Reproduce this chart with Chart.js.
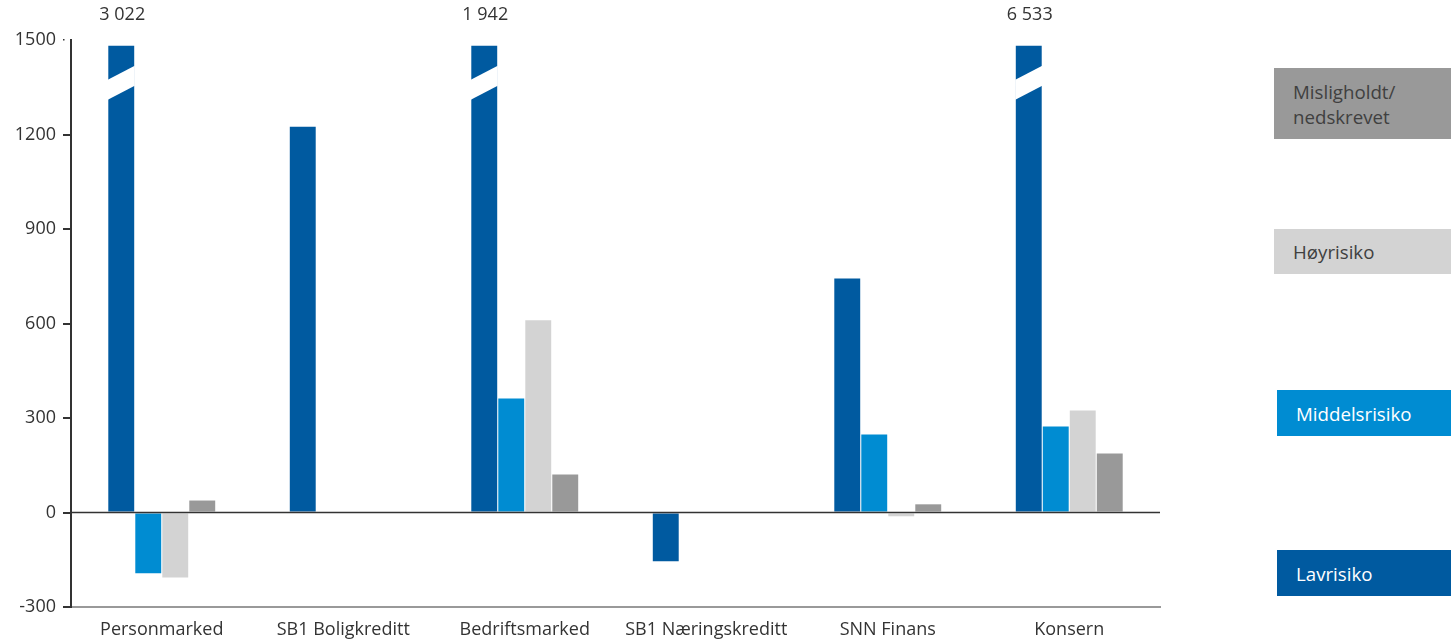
<!DOCTYPE html>
<html>
<head>
<meta charset="utf-8">
<script src="https://cdn.jsdelivr.net/npm/chart.js@4.4.1/dist/chart.umd.min.js"></script>
<style>
  html, body { margin:0; padding:0; background:#fff; }
  #wrap { position:relative; width:1451px; height:642px; overflow:hidden; }
  canvas { position:absolute; left:0; top:0; }
  .lg { position:absolute; font-family: "Open Sans", sans-serif; font-size:18.7px; line-height:25px; box-sizing:border-box; padding-left:19px; display:flex; align-items:center; }
</style>
</head>
<body>
<div id="wrap">
  <canvas id="c" width="1451" height="642"></canvas>
</div>
<script>
const categories = ['Personmarked', 'SB1 Boligkreditt', 'Bedriftsmarked', 'SB1 Næringskreditt', 'SNN Finans', 'Konsern'];
const lavrisiko     = [3022, 1225, 1942, -155, 743, 6533];
const middelsrisiko = [-193, null, 362, null, 248, 273];
const hoyrisiko     = [-206, null, 610, null, -12, 324];
const misligholdt   = [38, null, 121, null, 26, 187];
const seriesNames   = ['Lavrisiko', 'Middelsrisiko', 'Høyrisiko', 'Misligholdt/\nnedskrevet'];
const yTicks        = [-300, 0, 300, 600, 900, 1200, 1500];

const colors = ['#005AA0', '#008CD2', '#D3D3D3', '#999999'];
const textColors = ['#ffffff', '#ffffff', '#404040', '#404040'];
const Y_MIN = -300, Y_MAX = 1500, CAP = 1482;
const FONT = '"Open Sans", sans-serif';

const allSeries = [lavrisiko, middelsrisiko, hoyrisiko, misligholdt];

const fmt = v => String(v).replace(/\B(?=(\d{3})+(?!\d))/g, ' ');

const breakPlugin = {
  id: 'breaks',
  afterDatasetsDraw(chart) {
    const ctx = chart.ctx;
    const y = chart.scales.y;
    const area = chart.chartArea;
    ctx.save();
    ctx.strokeStyle = '#333333';
    ctx.lineWidth = 1.5;
    const y0 = y.getPixelForValue(0);
    ctx.beginPath();
    ctx.moveTo(area.left, y0);
    ctx.lineTo(area.right, y0);
    ctx.stroke();
    // small dot at top tick
    ctx.fillStyle = '#333333';
    ctx.fillRect(area.left - 8, y.getPixelForValue(Y_MAX) - 1, 1.5, 1.5);
    ctx.restore();

    chart.data.datasets.forEach((ds, di) => {
      const meta = chart.getDatasetMeta(di);
      allSeries[di].forEach((v, i) => {
        if (v == null || v <= Y_MAX) return;
        const bar = meta.data[i];
        const x1 = bar.x - bar.width / 2 - 0.5;
        const x2 = bar.x + bar.width / 2 + 0.5;
        const top = bar.y;
        ctx.save();
        ctx.fillStyle = '#ffffff';
        ctx.beginPath();
        ctx.moveTo(x1, top + 34);
        ctx.lineTo(x2, top + 20);
        ctx.lineTo(x2, top + 40);
        ctx.lineTo(x1, top + 54);
        ctx.closePath();
        ctx.fill();
        ctx.fillStyle = '#333333';
        ctx.font = '18px ' + FONT;
        ctx.textAlign = 'center';
        ctx.textBaseline = 'middle';
        ctx.fillText(fmt(v), bar.x + 1, 15);
        ctx.restore();
      });
    });
  }
};

new Chart(document.getElementById('c'), {
  type: 'bar',
  data: {
    labels: categories,
    datasets: allSeries.map((s, i) => ({
      label: seriesNames[i],
      data: s.map(v => v == null ? null : Math.min(v, CAP)),
      backgroundColor: colors[i],
      borderWidth: 0,
      categoryPercentage: 0.595,
      barPercentage: 0.96
    }))
  },
  options: {
    responsive: false,
    animation: false,
    events: [],
    layout: { padding: { left: 0, right: 291, top: 40, bottom: 0 } },
    plugins: { legend: { display: false }, tooltip: { enabled: false } },
    scales: {
      x: {
        grid: { display: false, drawTicks: false },
        border: { display: true, color: '#999999', width: 2 },
        ticks: { color: '#333333', font: { family: FONT, size: 18 }, padding: 12, maxRotation: 0, autoSkip: false },
        afterFit(scale) { scale.height = 35; }
      },
      y: {
        min: Y_MIN, max: Y_MAX,
        afterBuildTicks(scale) { scale.ticks = yTicks.map(v => ({ value: v })); },
        grid: {
          drawOnChartArea: false, drawTicks: true, tickLength: 8,
          color: ctx => (ctx.tick && ctx.tick.value === Y_MAX) ? 'rgba(0,0,0,0)' : '#333333',
          lineWidth: 2
        },
        border: { display: true, color: '#333333', width: 2 },
        ticks: { color: '#333333', font: { family: FONT, size: 18 }, padding: 7, callback: v => String(v) },
        afterFit(scale) { scale.width = 71; }
      }
    }
  },
  plugins: [breakPlugin]
});

const legendPos = [
  { top: 550, h: 46, left: 1277 },
  { top: 390, h: 46, left: 1277 },
  { top: 229, h: 45, left: 1274 },
  { top: 68,  h: 71, left: 1274 }
];
const wrap = document.getElementById('wrap');
seriesNames.forEach((n, i) => {
  const d = document.createElement('div');
  d.className = 'lg';
  const p = legendPos[i];
  d.style.left = p.left + 'px';
  d.style.top = p.top + 'px';
  d.style.width = (1451 - p.left) + 'px';
  d.style.height = p.h + 'px';
  d.style.background = colors[i];
  d.style.color = textColors[i];
  d.innerHTML = n.replace('\n', '<br>');
  wrap.appendChild(d);
});
</script>
</body>
</html>
